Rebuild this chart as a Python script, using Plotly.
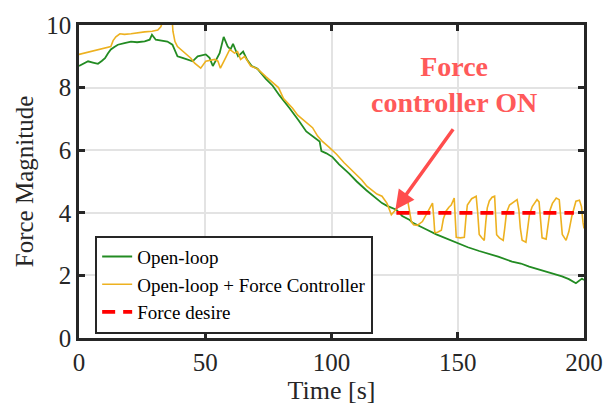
import plotly.graph_objects as go

# ---------------- data ----------------
t_open = [0, 1.5, 3.6, 5.5, 7.5, 9, 10.3, 11.5, 12.6, 14, 15.4, 18, 20.6, 23, 26, 28, 28.9,
          30.4, 33, 35, 37, 38, 39, 41, 43, 45, 47, 49, 50.2, 51.7, 53, 54, 55.7, 57.3,
          58.9, 60, 61, 63, 65, 66.5, 68.4, 70.7, 74, 76.7, 79.4, 83.4, 84.6, 87, 90,
          92.5, 95.3, 96, 98, 100.4, 103, 107, 110, 113.8, 117, 120, 122, 125.7, 128,
          130.8, 132, 134.8, 138, 141.5, 145, 150.6, 154, 158.5, 162, 166, 171.5, 175,
          178.3, 182, 185, 188, 191.3, 194, 196.8, 198, 199.2, 200]
f_open = [8.69, 8.75, 8.84, 8.8, 8.76, 8.85, 8.94, 9.1, 9.22, 9.3, 9.37, 9.42, 9.47, 9.45,
          9.48, 9.53, 9.69, 9.53, 9.5, 9.47, 9.37, 9.2, 9.0, 8.95, 8.9, 8.84, 9.0, 9.03,
          9.06, 8.95, 8.69, 8.84, 9.1, 9.62, 9.31, 9.22, 9.4, 9.0, 9.15, 8.9, 8.69, 8.6,
          8.28, 8.06, 7.75, 7.34, 7.22, 6.95, 6.6, 6.45, 6.28, 5.97, 5.9, 5.78, 5.55,
          5.25, 5.0, 4.72, 4.5, 4.31, 4.22, 4.1, 3.9, 3.78, 3.69, 3.59, 3.45, 3.31, 3.2,
          3.0, 2.9, 2.78, 2.7, 2.6, 2.44, 2.38, 2.28, 2.2, 2.12, 2.05, 1.97, 1.88, 1.75,
          1.82, 1.9, 1.85]

t_ctrl = [0, 2, 4.7, 7, 10.3, 12.6, 13.5, 14.6, 16.2, 18, 20.6, 23, 26, 29, 31.2, 32.4,
          33.5, 35.5, 36.8, 37.2, 38, 39, 42, 44.3, 45.8, 48.2, 50.2, 53.7, 55, 56, 58,
          59.7, 61.6, 62.8, 64, 65.6, 68, 70.7, 74, 78, 79, 81, 84.6, 86.6, 89, 92.5,
          94.5, 96.4, 99, 102, 105, 108.3, 112, 114, 116, 118, 120, 122, 123.7, 124.9,
          126.5, 128.9, 130, 130.8, 131.6, 132.5, 134, 136, 137.5, 138.7, 140, 140.5,
          140.9, 142, 143.5, 144.3, 145.4, 146.5, 147.4, 148.6, 149, 149.4, 151, 152.6,
          153.2, 153.8, 155.5, 157.3, 157.9, 158.5, 159.5, 160.5, 161.1, 161.7, 162.5,
          163.6, 164.6, 165.0, 165.4, 166.5, 168.0, 168.6, 169.3, 170.5, 172, 173.5,
          174.2, 174.8, 175.5, 177, 177.7, 178.4, 179.5, 181.4, 182.2, 182.8, 183.4, 185,
          185.8, 186.6, 187.5, 189, 190.2, 190.8, 191.4, 192.9, 194.0, 195.2, 196.8,
          198.2, 199.0, 199.6, 200]
f_ctrl = [9.06, 9.1, 9.15, 9.2, 9.25, 9.31, 9.5, 9.62, 9.72, 9.7, 9.72, 9.75, 9.78, 9.8,
          9.84, 9.94, 10.2, 10.5, 10.3, 9.8, 9.47, 9.31, 9.1, 8.94, 8.78, 8.62, 8.84,
          8.9, 8.85, 8.62, 8.94, 9.22, 9.1, 9.15, 8.9, 9.0, 8.69, 8.6, 8.35, 8.06, 8.0,
          7.65, 7.34, 7.12, 6.95, 6.72, 6.45, 6.28, 6.1, 5.87, 5.6, 5.34, 5.05, 4.85,
          4.72, 4.6, 4.53, 4.3, 3.94, 4.06, 4.2, 4.31, 4.47, 4.1, 3.72, 3.62, 3.6, 3.72,
          3.95, 4.16, 4.31, 3.85, 3.37, 3.38, 3.44, 3.8, 4.06, 4.18, 4.25, 4.47, 3.9, 3.22,
          3.2, 3.22, 3.8, 4.25, 4.45, 4.53, 4.0, 3.31, 3.2, 3.12, 3.7, 4.16, 4.38, 4.5,
          4.53, 4.0, 3.3, 3.2, 3.12, 3.5, 4.0, 4.25, 4.35, 4.42, 4.1, 3.5, 3.12, 3.06,
          3.5, 3.95, 4.2, 4.42, 4.35, 3.8, 3.2, 3.16, 3.6, 4.1, 4.3, 4.47, 4.42, 3.8, 3.31,
          3.12, 3.4, 3.9, 4.37, 4.4, 4.2, 3.7, 3.5]

t_desire = [125.7, 196]
f_desire = [4, 4]

x_ticks = [0, 50, 100, 150, 200]
y_ticks = [0, 2, 4, 6, 8, 10]

# ---------------- figure ----------------
FONT = "Liberation Serif"
INK = "#262626"

fig = go.Figure()
fig.add_trace(go.Scatter(x=t_open, y=f_open, mode="lines", name="Open-loop",
                         line=dict(color="#228B22", width=1.8)))
fig.add_trace(go.Scatter(x=t_ctrl, y=f_ctrl, mode="lines",
                         name="Open-loop + Force Controller",
                         line=dict(color="#EDB120", width=1.6)))
fig.add_trace(go.Scatter(x=t_desire, y=f_desire, mode="lines", name="Force desire",
                         line=dict(color="#FF0000", width=3.8, dash="13px,8px")))

axis_common = dict(showline=True, linecolor=INK, linewidth=2.5, mirror="ticks",
                   ticks="inside", ticklen=6, tickwidth=2.5, tickcolor=INK,
                   showgrid=True, gridcolor="#E3E3E3", gridwidth=2, zeroline=False,
                   tickfont=dict(family=FONT, size=25, color=INK))

fig.update_xaxes(range=[0, 200], tickvals=x_ticks,
                 title=dict(text="Time [s]", font=dict(family=FONT, size=26, color=INK),
                            standoff=1),
                 **axis_common)
fig.update_yaxes(range=[0, 10], tickvals=y_ticks,
                 title=dict(text="Force Magnitude", font=dict(family=FONT, size=25, color=INK),
                            standoff=6),
                 **axis_common)

# annotation text
fig.add_annotation(x=148.6, y=8.1, xref="x", yref="y",
                   text="<b>Force</b><br><b>controller ON</b>", showarrow=False,
                   font=dict(family=FONT, size=28, color="#FF5A5A"),
                   align="center")
# arrow
fig.add_annotation(x=125.3, y=4.1, xref="x", yref="y", ax=148.6, ay=6.72,
                   axref="x", ayref="y", text="", showarrow=True,
                   arrowhead=2, arrowsize=1.1, arrowwidth=3.5, arrowcolor="#FF4D4D")

fig.update_layout(
    width=615, height=411,
    margin=dict(l=79, r=30, t=18, b=73),
    paper_bgcolor="white", plot_bgcolor="white",
    font=dict(family=FONT, color=INK),
    showlegend=True,
    legend=dict(x=0.032, y=0.327, xanchor="left", yanchor="top",
                bgcolor="white", bordercolor=INK, borderwidth=2,
                font=dict(family=FONT, size=19, color="black"),
                tracegroupgap=0, itemwidth=30),
)

fig.write_html("out.html")
